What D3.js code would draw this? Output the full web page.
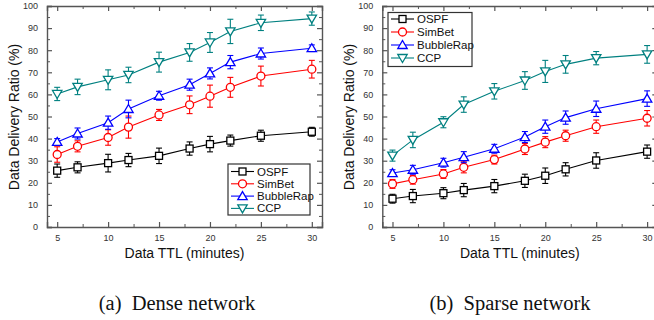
<!DOCTYPE html>
<html><head><meta charset="utf-8">
<script src="https://cdn.jsdelivr.net/npm/d3@7"></script>
<style>body{margin:0;background:#fff}svg{display:block}</style>
</head><body>
<svg id="c" width="654" height="320"></svg>
<script>
const ttl = [5, 7, 10, 12, 15, 18, 20, 22, 25, 30];
const seriesNames = ["OSPF", "SimBet", "BubbleRap", "CCP"];
const xTicks = [5, 10, 15, 20, 25, 30];
const yTicks = [0, 10, 20, 30, 40, 50, 60, 70, 80, 90, 100];

// Dense network
const denseOSPF      = [25.5, 27.0, 28.9, 30.3, 32.2, 35.5, 37.5, 39.1, 41.3, 43.1];
const denseOSPFErr   = [3.0, 2.5, 4.0, 3.0, 3.5, 3.0, 3.5, 2.5, 2.5, 2.0];
const denseSimBet    = [32.8, 36.5, 40.5, 45.2, 50.7, 55.3, 59.2, 63.2, 68.3, 71.4];
const denseSimBetErr = [3.5, 2.5, 3.5, 5.0, 2.5, 4.0, 5.0, 4.5, 4.5, 4.0];
const denseBubble    = [38.5, 42.3, 47.2, 53.4, 59.4, 64.4, 69.5, 74.6, 78.5, 80.9];
const denseBubbleErr = [1.5, 2.5, 3.0, 4.0, 2.0, 2.5, 2.5, 3.0, 2.5, 1.5];
const denseCCP       = [60.2, 63.4, 66.6, 68.8, 74.6, 79.0, 83.5, 88.5, 92.4, 94.3];
const denseCCPErr    = [3.0, 3.5, 4.5, 3.5, 4.5, 4.0, 4.5, 5.5, 3.5, 3.0];

// Sparse network
const sparseOSPF      = [12.8, 14.0, 15.3, 16.7, 18.5, 20.9, 23.2, 26.1, 30.1, 34.1];
const sparseOSPFErr   = [2.0, 3.0, 2.5, 3.0, 3.0, 3.0, 3.5, 3.0, 3.5, 3.0];
const sparseSimBet    = [19.5, 21.4, 24.0, 27.0, 30.5, 35.3, 38.4, 41.3, 45.4, 49.2];
const sparseSimBetErr = [2.0, 2.0, 2.0, 2.5, 2.0, 2.5, 2.5, 2.5, 3.0, 3.5];
const sparseBubble    = [24.4, 25.9, 29.1, 31.6, 35.4, 40.7, 45.4, 49.5, 53.5, 58.1];
const sparseBubbleErr = [1.5, 2.0, 2.0, 2.5, 2.0, 2.5, 3.0, 3.0, 3.5, 3.5];
const sparseCCP       = [32.3, 39.4, 47.4, 55.4, 61.4, 66.3, 70.4, 73.6, 76.4, 78.1];
const sparseCCPErr    = [2.5, 3.5, 2.5, 3.5, 3.5, 4.0, 5.0, 4.0, 3.0, 4.0];

const colors = ["#000000", "#ff0000", "#0000ff", "#008080"];
const symbols = ["square", "circle", "up", "down"];

const svg = d3.select("#c");
const axisColor = "#555";

function marker(g, type, cx, cy, color) {
  if (type === "square") {
    g.append("rect").attr("x", cx - 3.5).attr("y", cy - 3.5).attr("width", 7).attr("height", 7)
      .attr("fill", "#fff").attr("stroke", color).attr("stroke-width", 1.3);
  } else if (type === "circle") {
    g.append("circle").attr("cx", cx).attr("cy", cy).attr("r", 4)
      .attr("fill", "#fff").attr("stroke", color).attr("stroke-width", 1.3);
  } else if (type === "up") {
    g.append("path").attr("d", `M${cx},${cy - 4.5}L${cx + 4.7},${cy + 3.5}L${cx - 4.7},${cy + 3.5}Z`)
      .attr("fill", "#fff").attr("stroke", color).attr("stroke-width", 1.3);
  } else {
    g.append("path").attr("d", `M${cx},${cy + 4.5}L${cx + 4.7},${cy - 3.5}L${cx - 4.7},${cy - 3.5}Z`)
      .attr("fill", "#fff").attr("stroke", color).attr("stroke-width", 1.3);
  }
}

function panel(left, right, vals, errs, legend, caption, captionX) {
  const x = d3.scaleLinear().domain([4, 31]).range([left, right]);
  const y = d3.scaleLinear().domain([0, 100]).range([227, 6]);
  const g = svg.append("g");

  const minorX = d3.range(7.5, 31, 5);
  const minorY = d3.range(5, 100, 10);
  const ax = [
    [d3.axisBottom(x).tickValues(xTicks).tickSize(-5).tickPadding(8), `translate(0,${y(0)})`],
    [d3.axisTop(x).tickValues(xTicks).tickSize(-5).tickFormat(""), `translate(0,${y(100)})`],
    [d3.axisLeft(y).tickValues(yTicks).tickSize(-5).tickPadding(9), `translate(${x(4)},0)`],
    [d3.axisRight(y).tickValues(yTicks).tickSize(-5).tickFormat(""), `translate(${x(31)},0)`]
  ];
  const axm = [
    [d3.axisBottom(x).tickValues(minorX).tickSize(-3).tickFormat(""), `translate(0,${y(0)})`],
    [d3.axisTop(x).tickValues(minorX).tickSize(-3).tickFormat(""), `translate(0,${y(100)})`],
    [d3.axisLeft(y).tickValues(minorY).tickSize(-3).tickFormat(""), `translate(${x(4)},0)`],
    [d3.axisRight(y).tickValues(minorY).tickSize(-3).tickFormat(""), `translate(${x(31)},0)`]
  ];
  for (const [a, t] of axm) {
    const ag = g.append("g").attr("transform", t).call(a);
    ag.select(".domain").remove();
    ag.selectAll("line").attr("stroke", axisColor).attr("stroke-width", 1);
  }
  for (const [a, t] of ax) {
    const ag = g.append("g").attr("transform", t).call(a);
    ag.select(".domain").attr("stroke", axisColor).attr("stroke-width", 1.4);
    ag.selectAll("line").attr("stroke", axisColor).attr("stroke-width", 1.2);
    ag.selectAll("text").attr("font-family", "Liberation Sans, Arial, sans-serif")
      .attr("font-size", 9).attr("fill", "#333");
  }

  vals.forEach((v, si) => {
    const c = colors[si];
    const line = d3.line().x((d, i) => x(ttl[i])).y(d => y(d));
    g.append("path").datum(v).attr("d", line).attr("fill", "none")
      .attr("stroke", c).attr("stroke-width", 1.1);
    v.forEach((d, i) => {
      const cx = x(ttl[i]);
      const e = errs[si][i];
      const y1 = y(d + e), y2 = y(d - e);
      g.append("line").attr("x1", cx).attr("x2", cx).attr("y1", y1).attr("y2", y2)
        .attr("stroke", c).attr("stroke-width", 1.1);
      [y1, y2].forEach(yy => g.append("line").attr("x1", cx - 3).attr("x2", cx + 3)
        .attr("y1", yy).attr("y2", yy).attr("stroke", c).attr("stroke-width", 1.1));
    });
    v.forEach((d, i) => marker(g, symbols[si], x(ttl[i]), y(d), c));
  });

  const L = legend;
  g.append("rect").attr("x", L.x).attr("y", L.y).attr("width", L.w).attr("height", L.h)
    .attr("fill", "#fff").attr("stroke", "#333").attr("stroke-width", 1.2);
  seriesNames.forEach((n, i) => {
    const yy = L.y + L.first + i * L.step;
    g.append("line").attr("x1", L.x + 3).attr("x2", L.x + 26).attr("y1", yy).attr("y2", yy)
      .attr("stroke", colors[i]).attr("stroke-width", 1.1);
    marker(g, symbols[i], L.x + 14.5, yy, colors[i]);
    g.append("text").attr("x", L.x + 29).attr("y", yy + 4).text(n)
      .attr("font-family", "Liberation Sans, Arial, sans-serif").attr("font-size", 11.5).attr("fill", "#111");
  });

  const mid = (left + right) / 2;
  g.append("text").attr("x", mid).attr("y", 258).attr("text-anchor", "middle")
    .attr("font-family", "Liberation Sans, Arial, sans-serif").attr("font-size", 14).attr("fill", "#111")
    .text("Data TTL (minutes)");
  g.append("text").attr("transform", `translate(${left - 28},117) rotate(-90)`).attr("text-anchor", "middle")
    .attr("font-family", "Liberation Sans, Arial, sans-serif").attr("font-size", 14).attr("fill", "#111")
    .text("Data Delivery Ratio (%)");
  g.append("text").attr("x", captionX).attr("y", 310).attr("text-anchor", "middle")
    .attr("font-family", "Liberation Serif, Times New Roman, serif").attr("font-size", 20.5).attr("fill", "#111")
    .attr("xml:space", "preserve").text(caption);
}

panel(47, 322,
  [denseOSPF, denseSimBet, denseBubble, denseCCP],
  [denseOSPFErr, denseSimBetErr, denseBubbleErr, denseCCPErr],
  {x: 228, y: 164, w: 82, h: 51, first: 7.5, step: 12.3},
  "(a)  Dense network", 177);
panel(382.3, 657.3,
  [sparseOSPF, sparseSimBet, sparseBubble, sparseCCP],
  [sparseOSPFErr, sparseSimBetErr, sparseBubbleErr, sparseCCPErr],
  {x: 388, y: 12.5, w: 84, h: 54, first: 6.5, step: 13},
  "(b)  Sparse network", 510);
</script>
</body></html>
